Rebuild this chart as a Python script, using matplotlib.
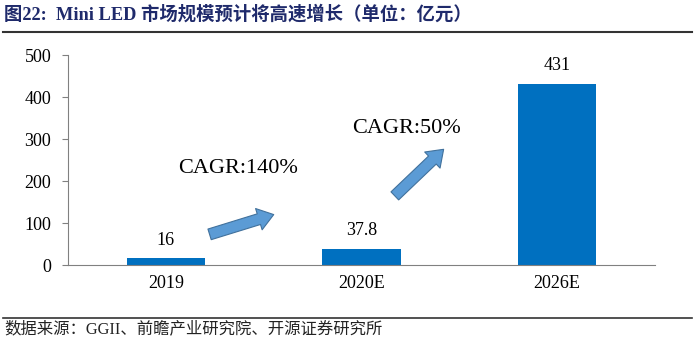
import matplotlib
matplotlib.use("Agg")
import matplotlib.pyplot as plt
from matplotlib.patches import FancyArrowPatch
from matplotlib.lines import Line2D

plt.rcParams["font.family"] = ["Liberation Serif", "Noto Sans CJK SC"]

YEARS = ["2019", "2020E", "2026E"]
VALUES = [16, 37.8, 431]
LABELS = ["16", "37.8", "431"]
CAGR_TEXT = ["CAGR:140%", "CAGR:50%"]

TITLE = "图22:  Mini LED 市场规模预计将高速增长（单位：亿元）"
SOURCE = "数据来源：GGII、前瞻产业研究院、开源证券研究所"

fig = plt.figure(figsize=(7, 3.43), dpi=100)
ax = fig.add_axes([68 / 700, 1 - 265 / 343, 587 / 700, 210 / 343])

x = range(len(YEARS))
ax.bar(x, VALUES, width=0.4, color="#0070C0")
for i, (v, lab) in enumerate(zip(VALUES, LABELS)):
    ax.annotate(lab, (i, v), xytext=(0, 7), textcoords="offset points",
                ha="center", va="bottom", fontsize=13)

ax.set_xlim(-0.5, 2.5)
ax.set_ylim(0, 500)
ax.set_xticks(list(x))
ax.set_xticklabels(YEARS, fontsize=13)
ax.set_yticks(range(0, 501, 100))
ax.tick_params(axis="y", labelsize=13, length=4, color="#808080", pad=8)
ax.tick_params(axis="x", length=0, pad=7)
for side in ["top", "right"]:
    ax.spines[side].set_visible(False)
for side in ["left", "bottom"]:
    ax.spines[side].set_color("#808080")

# growth arrows
arrows = [((0.21, 71), (0.565, 122)), ((1.16, 160), (1.43, 280))]
for start, end in arrows:
    ax.add_patch(FancyArrowPatch(start, end, arrowstyle="simple,head_length=0.7,head_width=1.0,tail_width=0.5",
                                 mutation_scale=16, facecolor="#5B9BD5", edgecolor="#41719C", lw=0.8))
ax.text(0.37, 229, CAGR_TEXT[0], ha="center", va="center", fontsize=16)
ax.text(1.23, 326, CAGR_TEXT[1], ha="center", va="center", fontsize=16)

fig.text(4 / 700, 1 - 14 / 343, TITLE, fontsize=13.2, fontweight="bold", color="#1F2A6B",
         ha="left", va="center")
fig.add_artist(Line2D([3 / 700, 692 / 700], [1 - 32 / 343] * 2, color="#333333", lw=1.5))
fig.add_artist(Line2D([3 / 700, 692 / 700], [1 - 318 / 343] * 2, color="#333333", lw=1.2))
fig.text(4 / 700, 1 - 329 / 343, SOURCE, fontsize=11.8, ha="left", va="center", color="#222222")

fig.savefig("out.png", dpi=100)
